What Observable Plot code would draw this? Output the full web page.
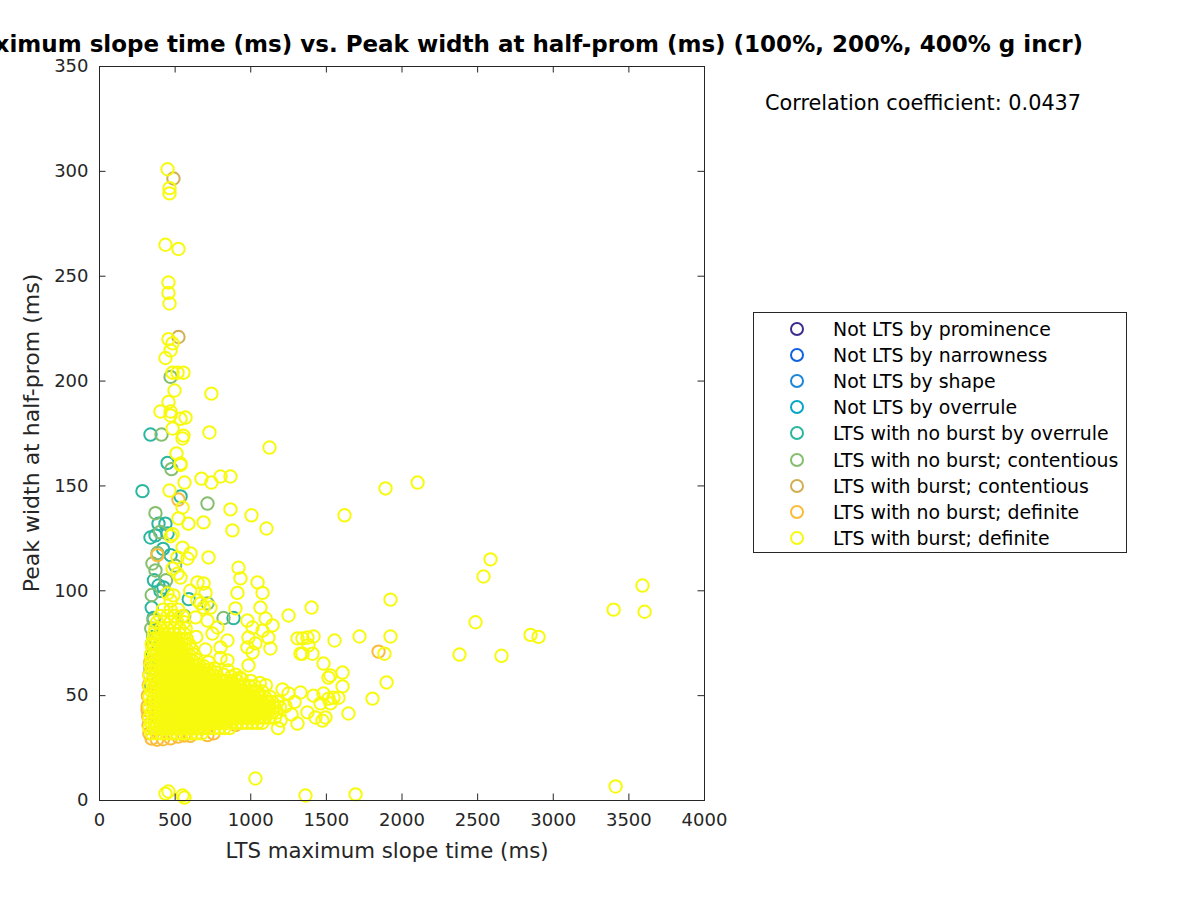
<!DOCTYPE html>
<html>
<head>
<meta charset="utf-8">
<script src="https://cdn.jsdelivr.net/npm/d3@7"></script>
<script src="https://cdn.jsdelivr.net/npm/@observablehq/plot@0.6"></script>
<style>
  html, body { margin: 0; padding: 0; background: #fff; }
  body { width: 1200px; height: 900px; overflow: hidden; position: relative; font-family: "DejaVu Sans", sans-serif; }
  #chart { position: absolute; left: 0; top: 0; }
  .abs { position: absolute; white-space: nowrap; }
  #title { right: 117px; top: 30px; font-weight: bold; font-size: 23px; line-height: 28px; color: #000; }
  #corr { left: 765px; top: 90px; font-size: 20.8px; line-height: 26px; color: #000; }
  #xlabel { left: 0; width: 774px; text-align: center; top: 838px; font-size: 21.3px; line-height: 26px; color: #262626; }
  #ylabel { left: 32px; top: 433px; font-size: 22px; line-height: 26px; color: #262626; transform: translate(-50%, -50%) rotate(-90deg); }
  #legend { left: 753px; top: 312px; width: 372px; height: 239px; border: 1px solid #262626; background: #fff; }
  .item { position: absolute; left: 0; height: 22px; font-size: 18.9px; color: #000; }
  .item svg { position: absolute; left: 35px; top: 3px; }
  .item span { position: absolute; left: 79px; top: 0; line-height: 22px; }
</style>
</head>
<body>
<div id="chart"></div>
<div id="title" class="abs">LTS maximum slope time (ms) vs. Peak width at half-prom (ms) (100%, 200%, 400% g incr)</div>
<div id="corr" class="abs">Correlation coefficient: 0.0437</div>
<div id="xlabel" class="abs">LTS maximum slope time (ms)</div>
<div id="ylabel" class="abs">Peak width at half-prom (ms)</div>
<div id="legend" class="abs"></div>
<script>
// ---- axis ticks ----
const xTicks = [0, 500, 1000, 1500, 2000, 2500, 3000, 3500, 4000];
const yTicks = [0, 50, 100, 150, 200, 250, 300, 350];

// ---- categories (legend order) ----
const categories = [
  "Not LTS by prominence",
  "Not LTS by narrowness",
  "Not LTS by shape",
  "Not LTS by overrule",
  "LTS with no burst by overrule",
  "LTS with no burst; contentious",
  "LTS with burst; contentious",
  "LTS with no burst; definite",
  "LTS with burst; definite"
];
const colors = ["#3b2d8e", "#0f62e0", "#1c86d8", "#08a6c6", "#2bb79f", "#84bf6e", "#d1ae52", "#fbbc3b", "#f8fa0e"];

// ---- points [LTS max slope time (ms), peak width at half-prom (ms)] ----
const notLtsProminence = [];
const notLtsNarrowness = [];
const notLtsShape = [];
const notLtsOverrule = [];

const noBurstOverrule = [
  [337,174.5],[284,147.5],[450,161],[536,145],[390,132],[436,132],[337,125.4],[370,126.4],[450,127.3],
  [390,102.5],[403,100],[423,101.6],[357,87],[886,87],[470,117],[360,105],[345,92],[420,120],[355,78],
  [590,96],[352,70]
];

const noBurstContentious = [
  [470,202],[410,174.5],[476,158],[714,141.6],[370,137],[350,113],[370,109.7],[357,86],[337,63],[714,94],
  [820,87],[383,118],[400,128],[345,98],[440,105],[340,55],[348,75],[500,112],[560,88],[342,82]
];

const burstContentious = [[489,296.6],[522,221]];

const noBurstDefinite = [
  [522,143.5],[383,117],[1845,71],[345,29.5],[380,29],[420,29.2],[470,29.6],[520,30.5],[560,31],[600,30.8],
  [714,31.2],[754,32],[322,40],[318,45],[320,50],[326,55],[330,60],[335,66],[324,36],[900,36],[370,54],
  [318,43],[330,32]
];

const burstDefinite = [
  [450,301],[463,292],[463,289.5],[436,265],[522,263],[456,247],[456,242],[463,237],[456,220],[483,218],
  [470,214.6],[436,211],[483,204],[516,204],[555,204],[496,195.5],[740,194],[456,190],[403,185.5],[470,185.5],
  [470,183.6],[536,182],[569,182.6],[483,177.4],[727,175.5],[555,174],[549,172.6],[1124,168.3],[509,165.5],
  [536,160],[536,160.7],[562,151.6],[674,153.5],[740,151.6],[800,154.5],[866,154.5],[463,147.8],[549,139.7],
  [866,138.8],[1005,136],[522,134.5],[588,132],[688,132.6],[879,128.8],[1104,129.7],[483,127],[470,126],
  [549,120.6],[602,117.8],[516,115.9],[582,115.4],[721,115.9],[483,110.6],[516,108.2],[536,106.3],
  [919,111],[932,105.9],[1045,104],[1078,99],[912,99],[899,91.6],[648,104],[688,103.5],[701,99],
  [450,98.7],[489,97.8],[470,95.4],[648,95.4],[668,94],[688,92],[635,87.3],[734,92],[714,85.8],[780,82.5],
  [747,79.6],[846,76.3],[800,73],[978,85.8],[1012,82.5],[985,77.7],[1031,74.9],[978,73],[1012,70.6],
  [1064,92],[1098,86.8],[1078,81],[1117,77.7],[1144,83.5],[1130,72.5],[1250,88.2],[846,66.8],[985,64.4],
  [1309,77.3],[1329,70],[1402,92],[1924,95.8],[2486,85],[2380,69.6],[2658,69],[1342,77.3],[1375,77.7],
  [1415,78.2],[1554,76.3],[1719,78.2],[1924,78.2],[1342,70],[1408,70],[1382,74],[1884,70],[1481,65.3],
  [1514,58.6],[1527,59.6],[1607,61],[1607,54.4],[1898,56.3],[1805,48.6],[1646,41.5],
  [1250,51],[1329,51.5],[1415,50],[1481,51],[1547,49],[1580,49],[1514,48.6],[1461,46.3],[1527,46.3],
  [1375,42],[1428,39.6],[1474,38.1],[1494,39.6],[1309,36.7],[1197,38.1],[1230,45],[1270,41],[1290,47],
  [1620,136],[1891,148.8],[2103,151.6],[2539,106.8],[2585,115],[2850,79],[2903,78],[3399,91],[3590,102.5],
  [3604,90],[436,3.3],[456,4.3],[549,2.4],[562,1.4],[1031,10.5],[1362,2.4],[1693,2.9],[3412,6.7],
  [690,64],[730,62.5],[770,61],[820,60],[870,59],[930,58.5],[1000,57],[1060,56],[1100,55],[720,66],
  [760,63],[800,68],[850,62],[900,60],[940,58],[700,72],[640,78],[600,100],[1210,53],[1180,34.5]
];

// dense core of "LTS with burst; definite": rows of [peak width, [max slope times...]]
const burstDefiniteCoreRows = [
  [32, [345,378,410,443,476,510,543,576,610,643,676]],
  [34.5, [330,362,395,428,460,494,527,560,593,626,660,693,726,760,793,826,860]],
  [37, [345,378,410,443,476,510,543,576,610,643,676,710,743,776,810,843,876,910,943,976,1010,1043,1076]],
  [39.5, [330,362,395,428,460,494,527,560,593,626,660,693,726,760,793,826,860,893,926,960,993,1026,1060,1093,1126,1160]],
  [42, [345,378,410,443,476,510,543,576,610,643,676,710,743,776,810,843,876,910,943,976,1010,1043,1076,1110,1143,1176]],
  [44.5, [330,362,395,428,460,494,527,560,593,626,660,693,726,760,793,826,860,893,926,960,993,1026,1060,1093,1126,1160,1193]],
  [47, [345,378,410,443,476,510,543,576,610,643,676,710,743,776,810,843,876,910,943,976,1010,1043,1076,1110,1143,1176]],
  [49.5, [330,362,395,428,460,494,527,560,593,626,660,693,726,760,793,826,860,893,926,960,993,1026,1060,1093,1126]],
  [52, [345,378,410,443,476,510,543,576,610,643,676,710,743,776,810,843,876,910,943,976,1010,1043,1076]],
  [54.5, [330,362,395,428,460,494,527,560,593,626,660,693,726,760,793,826,860,893,926,960,993,1026]],
  [57, [345,378,410,443,476,510,543,576,610,643,676,710,743,776,810,843,876,910]],
  [59.5, [330,362,395,428,460,494,527,560,593,626,660,693,726,760]],
  [62, [345,378,410,443,476,510,543,576,610,643,676,710]],
  [64.5, [338,362,395,428,460,494,527,560,593,626,660]],
  [67, [345,378,410,443,476,510,543,576,610,643]],
  [69.5, [340,362,395,428,460,494,527,560,593,626]],
  [72, [350,378,410,443,476,510,543,576,610]],
  [74.5, [345,362,395,428,460,494,527,560,593]],
  [77, [355,380,412,445,478,512,545,578]],
  [79.5, [362,395,428,460,494,527,560]],
  [82, [370,410,450,490,530,570]],
  [85, [380,425,470,515,560]],
  [88, [400,450,500,550]],
  [91, [420,470,520]]
];

const coreRows = burstDefiniteCoreRows.flatMap(([y, xs]) => xs.map(x => [x, y]));

const series = [
  notLtsProminence, notLtsNarrowness, notLtsShape, notLtsOverrule,
  noBurstOverrule, noBurstContentious, burstContentious, noBurstDefinite,
  burstDefinite.concat(coreRows)
];

// ---- style ----
const W = 1200, H = 900;
const axisColor = "#262626";
const tickLenPx = 6.5;
const mL = 99, mR = 496, mT = 66, mB = 100;
const xPerPx = 4000 / (W - mL - mR);
const yPerPx = 350 / (H - mT - mB);

const dotMarks = series.map((pts, i) => Plot.dot(pts, {
  x: d => d[0], y: d => d[1], r: 6.2, stroke: colors[i], strokeWidth: 2, fill: "none"
}));

const chart = Plot.plot({
  width: W, height: H,
  marginLeft: mL, marginRight: mR, marginTop: mT, marginBottom: mB,
  style: { fontFamily: "DejaVu Sans", fontSize: "18px", color: axisColor, background: "white", overflow: "visible" },
  x: { type: "linear", domain: [0, 4000] },
  y: { type: "linear", domain: [0, 350] },
  marks: [
    ...dotMarks,
    Plot.frame({ stroke: axisColor, strokeWidth: 1 }),
    Plot.ruleX(xTicks, { x: d => d, y1: 0, y2: tickLenPx * yPerPx, stroke: axisColor }),
    Plot.ruleX(xTicks, { x: d => d, y1: 350 - tickLenPx * yPerPx, y2: 350, stroke: axisColor }),
    Plot.ruleY(yTicks, { y: d => d, x1: 0, x2: tickLenPx * xPerPx, stroke: axisColor }),
    Plot.ruleY(yTicks, { y: d => d, x1: 4000 - tickLenPx * xPerPx, x2: 4000, stroke: axisColor }),
    Plot.axisX({ ticks: xTicks, tickSize: 0, tickPadding: 13, tickFormat: d => String(d), label: null, fill: axisColor }),
    Plot.axisY({ ticks: yTicks, tickSize: 0, tickPadding: 11, tickFormat: d => String(d), label: null, fill: axisColor })
  ]
});
document.getElementById("chart").appendChild(chart);

// ---- legend ----
const legend = document.getElementById("legend");
categories.forEach((c, i) => {
  const item = document.createElement("div");
  item.className = "item";
  item.style.top = (5 + i * 26.1) + "px";
  item.style.width = "372px";
  item.innerHTML = `<svg width="16" height="16"><circle cx="8" cy="8" r="6" fill="none" stroke="${colors[i]}" stroke-width="2"/></svg><span>${c}</span>`;
  legend.appendChild(item);
});
</script>
</body>
</html>
